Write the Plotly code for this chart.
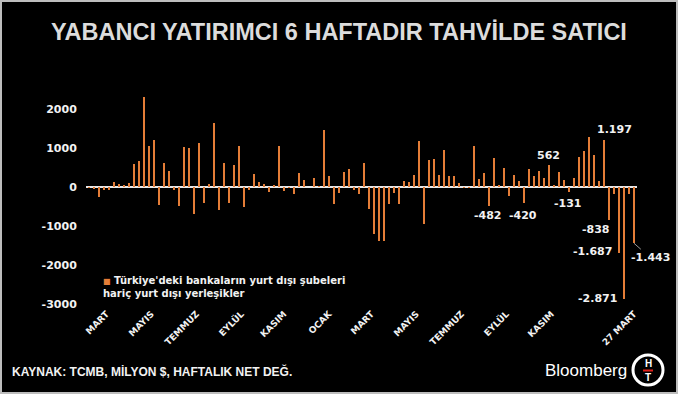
import plotly.graph_objects as go

# Weekly net bond flows of foreign residents (USD mn), oldest -> latest (27 March)
flows = [-20, -40, -255, -70, -85, 120, 85, 35, 110, 600,
         670, 2310, 1050, 1215, -470, 615, 420, -85, -490, 1035,
         1000, -685, 1135, -400, 75, 1650, -580, 605, -410, 575,
         1050, -500, -85, 340, 120, 75, -130, 60, 1050, -100,
         -10, -170, 370, 170, 0, 240, 10, 1450, 280, -445,
         -155, 385, 450, -70, -170, 625, -555, -1200, -1390, -1380,
         -430, -150, -430, 145, 135, 315, 1190, -940, 700, 725,
         310, 940, 280, 280, 100, -20, -10, 1040, 215, 360,
         -482, 750, 60, 490, -230, 300, 155, -420, 455, 280,
         410, 240, 562, 60, 390, 180, -131, 240, 760, 915,
         1280, 830, 155, 1197, -838, -190, -1687, -2871, -170, -1443]
weeks = list(range(len(flows)))

month_labels = ["MART", "MAYIS", "TEMMUZ", "EYLÜL", "KASIM", "OCAK",
                "MART", "MAYIS", "TEMMUZ", "EYLÜL", "KASIM", "27 MART"]
month_weeks = [3.5, 12.5, 21.5, 30.5, 39, 48, 56.5, 65.5, 74.5, 83.5, 92.5, 109]

y_ticks = [2000, 1000, 0, -1000, -2000, -3000]

labelled_weeks = [103, 92, 80, 87, 96, 104, 106, 107]
label_shifts = [(10, 11), (-1, 10), (-1, -10), (-1, -12), (-1, -11),
                (-13, -10), (-27, 1), (-27, 0)]
arrow_week = 109

title = "YABANCI YATIRIMCI 6 HAFTADIR TAHVİLDE SATICI"
legend_name = "Türkiye'deki bankaların yurt dışı şubeleri<br>hariç yurt dışı yerleşikler"
source = "KAYNAK: TCMB, MİLYON $, HAFTALIK NET DEĞ."

BAR = "#e47d37"
W, H = 678, 394
ML, MR, MT, MB = 86, 41, 90, 88


def px(x):
    return (x - ML) / (W - ML - MR)


def py(y):
    return (H - MB - y) / (H - MT - MB)


def tr(v):
    return f"{v:,}".replace(",", ".")


fig = go.Figure()
fig.add_trace(go.Bar(x=weeks, y=flows, width=0.55, marker=dict(color=BAR, line=dict(width=0)),
                     showlegend=False, name="flows"))

lab_font = dict(family="DejaVu Sans", size=11, color="#f2f2f2", weight="bold")
ann = []
for wk, (dx, dy) in zip(labelled_weeks, label_shifts):
    ann.append(dict(x=wk, y=flows[wk], xref="x", yref="y", text=tr(flows[wk]), showarrow=False,
                    xshift=dx, yshift=dy, font=lab_font))
ann.append(dict(x=arrow_week, y=flows[arrow_week], xref="x", yref="y", text=tr(flows[arrow_week]),
                showarrow=True, arrowhead=0, arrowwidth=1, arrowcolor="#9a9a9a", ax=16, ay=14,
                font=lab_font))

# legend-like note
ann.append(dict(x=px(101), y=py(287), xref="paper", yref="paper", xanchor="left", yanchor="middle",
                align="left", showarrow=False,
                text=f'<span style="font-size:8px;color:{BAR}">■</span> ' + legend_name,
                font=dict(family="DejaVu Sans", size=10, color="#f2f2f2", weight="bold")))
# source
ann.append(dict(x=px(10), y=py(371), xref="paper", yref="paper", xanchor="left", yanchor="middle",
                showarrow=False, text=source,
                font=dict(family="Liberation Sans", size=12, color="#f2f2f2", weight="bold")))
# Bloomberg logo text
ann.append(dict(x=px(586), y=py(370), xref="paper", yref="paper", xanchor="center", yanchor="middle",
                showarrow=False, text="Bloomberg",
                font=dict(family="Liberation Sans", size=17, color="#ffffff")))
ann.append(dict(x=px(648), y=py(363.5), xref="paper", yref="paper", xanchor="center", yanchor="middle",
                showarrow=False, text="H",
                font=dict(family="Liberation Sans", size=10, color="#ffffff", weight="bold")))
ann.append(dict(x=px(648), y=py(377.5), xref="paper", yref="paper", xanchor="center", yanchor="middle",
                showarrow=False, text="T",
                font=dict(family="Liberation Sans", size=10, color="#ffffff", weight="bold")))

shapes = [
    dict(type="circle", xref="paper", yref="paper", x0=px(633), x1=px(663), y0=py(385), y1=py(355),
         line=dict(color="#ffffff", width=3), fillcolor="rgba(0,0,0,0)"),
    dict(type="line", xref="paper", yref="paper", x0=px(643), x1=px(653), y0=py(370.5), y1=py(370.5),
         line=dict(color="#e0201b", width=2)),
    dict(type="rect", xref="paper", yref="paper", x0=px(1), x1=px(677), y0=py(393), y1=py(1),
         line=dict(color="#bdbdbd", width=2), fillcolor="rgba(0,0,0,0)"),
]

fig.update_layout(
    width=W, height=H,
    margin=dict(l=ML, r=MR, t=MT, b=MB, pad=0, autoexpand=False),
    paper_bgcolor="#000000", plot_bgcolor="#000000",
    title=dict(text=title, x=0.5, xref="container", xanchor="center",
               y=1 - 32 / H, yref="container", yanchor="middle",
               font=dict(family="Liberation Sans", size=23.5, color="#dcdcdc", weight="bold")),
    bargap=0,
    annotations=ann,
    shapes=shapes,
    xaxis=dict(range=[-0.6, 109.6], showgrid=False, zeroline=False, showline=False,
               tickvals=month_weeks, ticktext=month_labels, tickangle=-45, ticks="",
               tickfont=dict(family="DejaVu Sans", size=9, color="#f2f2f2", weight="bold")),
    yaxis=dict(range=[-3051, 2487], showgrid=False, zeroline=True, zerolinecolor="#e8e8e8",
               zerolinewidth=1.5, showline=False, tickvals=y_ticks,
               ticktext=[str(v) for v in y_ticks], ticks="outside", ticklen=6, tickcolor="#000000",
               tickfont=dict(family="DejaVu Sans", size=11, color="#f2f2f2", weight="bold")),
)

fig.write_html("out.html", config={"displayModeBar": False},
               post_script="document.body.style.margin='0px';document.body.style.overflow='hidden';")
